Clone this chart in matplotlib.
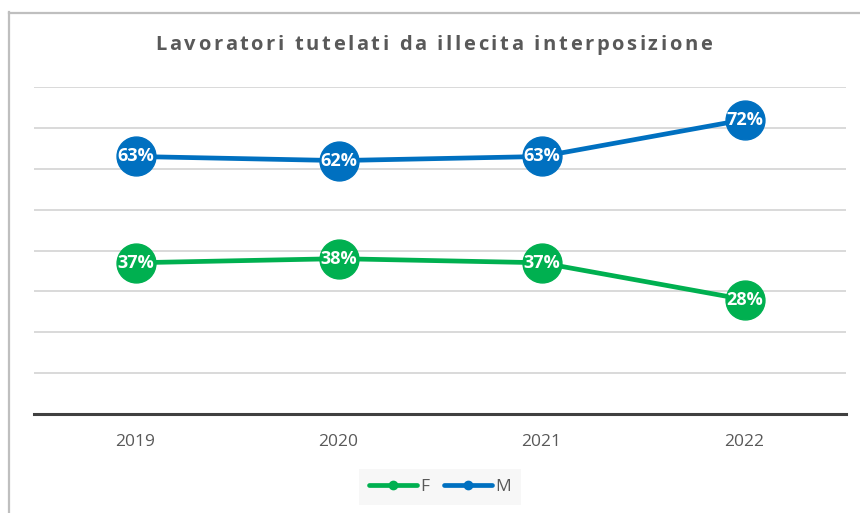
import matplotlib
matplotlib.use('Agg')
import matplotlib.pyplot as plt
from matplotlib.lines import Line2D

# dati
anni = ['2019', '2020', '2021', '2022']
femmine = [37, 38, 37, 28]
maschi = [63, 62, 63, 72]
titolo = 'Lavoratori tutelati da illecita interposizione'

verde = '#00B050'
blu = '#0070C0'
grigio_testo = '#595959'

plt.rcParams['font.family'] = ['Open Sans', 'DejaVu Sans']

W, H = 860, 513
fig = plt.figure(figsize=(W / 100, H / 100), dpi=100)
ax = fig.add_axes([34 / W, 1 - 414 / H, 812 / W, (414 - 87) / H])

x = list(range(len(anni)))
for serie, col, nome in [(femmine, verde, 'F'), (maschi, blu, 'M')]:
    ax.plot(x, serie, color=col, lw=3.4, marker='o', ms=28,
            solid_capstyle='round', label=nome, zorder=3)
    for xi, v in zip(x, serie):
        ax.text(xi, v, f'{v}%', ha='center', va='center', color='white',
                fontsize=13, fontweight='bold', zorder=4)

ax.set_xlim(-0.5, len(anni) - 0.5)
ax.set_ylim(0, 80)
ax.set_yticks(range(0, 81, 10))
ax.yaxis.grid(True, color='#d9d9d9', lw=1.4)
ax.set_axisbelow(True)
ax.set_xticks(x, anni)
ax.tick_params(left=False, labelleft=False, bottom=False,
               labelsize=12.5, labelcolor=grigio_testo, pad=11)
for s in ['left', 'right', 'top']:
    ax.spines[s].set_visible(False)
ax.spines['bottom'].set_color('#404040')
ax.spines['bottom'].set_linewidth(2.2)

# bordo del grafico (solo sinistra e sopra visibili)
fig.add_artist(Line2D([8.5 / W, 8.5 / W], [0, 1 - 12 / H], color='#bfbfbf', lw=1.6))
fig.add_artist(Line2D([8.5 / W, 1], [1 - 12.5 / H, 1 - 12.5 / H], color='#bfbfbf', lw=1.6))

# titolo con spaziatura tra le lettere
renderer = fig.canvas.get_renderer()
kw = dict(fontsize=14.5, fontweight='bold', color=grigio_testo)


def larghezza(s):
    t = fig.text(0, 0, s + '|', **kw)
    w = t.get_window_extent(renderer).width
    t.remove()
    t = fig.text(0, 0, '|', **kw)
    w -= t.get_window_extent(renderer).width
    t.remove()
    return w


naturale = larghezza(titolo)
larg_target = 557
passo = (larg_target - naturale) / (len(titolo) - 1)
x0 = 433.5 - larg_target / 2
for i, ch in enumerate(titolo):
    if ch == ' ':
        continue
    xp = x0 + larghezza(titolo[:i]) + i * passo
    fig.text(xp / W, 1 - 45 / H, ch, ha='left', va='center', **kw)

# legenda
maniglie = [Line2D([], [], color=verde, lw=3.4, marker='o', ms=6, solid_capstyle='round'),
            Line2D([], [], color=blu, lw=3.4, marker='o', ms=6, solid_capstyle='round')]
leg = fig.legend(maniglie, ['F', 'M'], loc='center', bbox_to_anchor=(440 / W, 1 - 487 / H),
                 ncol=2, frameon=True, facecolor='#f5f5f5', edgecolor='none', fancybox=False,
                 fontsize=12.5, handlelength=2.8, handletextpad=0.2, columnspacing=0.8,
                 borderpad=0.55)
for t in leg.get_texts():
    t.set_color(grigio_testo)

fig.savefig('out.png', dpi=100, facecolor='white')
